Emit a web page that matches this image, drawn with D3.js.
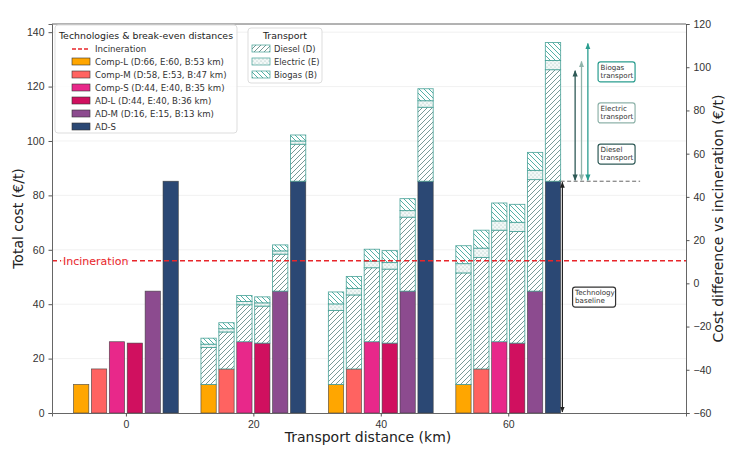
<!DOCTYPE html>
<html>
<head>
<meta charset="utf-8">
<script src="https://cdn.jsdelivr.net/npm/d3@7"></script>
<style>
  body { margin: 0; background: #fff; }
  svg { font-family: "DejaVu Sans", sans-serif; }
  .tick text { fill: #333; font-size: 10.5px; }
  .tick line { stroke: #555; }
  .domain { stroke: #666; }
</style>
</head>
<body>
<svg></svg>
<script>
// data
let distances = [0, 20, 40, 60];
let techNames = ["Comp-L", "Comp-M", "Comp-S", "AD-L", "AD-M", "AD-S"];
let techLabels = ["Comp-L (D:66, E:60, B:53 km)", "Comp-M (D:58, E:53, B:47 km)",
    "Comp-S (D:44, E:40, B:35 km)", "AD-L (D:44, E:40, B:36 km)",
    "AD-M (D:16, E:15, B:13 km)", "AD-S"];
let techColors = ["#ffa600", "#ff6361", "#e8288a", "#d0105f", "#8c4b8f", "#2b4874"];
let baseCost = [10.5, 16.2, 26.2, 25.7, 44.8, 85.2];
// transport cost per distance (€/t), cumulative totals per fuel
let dieselCost = [0, 13.6, 27.2, 41.0];
let electricCost = [0, 14.8, 29.6, 44.4];
let biogasCost = [0, 17.0, 34.0, 51.0];
let incineration = 56;
let leftTicks = [0, 20, 40, 60, 80, 100, 120, 140];
let rightTicks = [-60, -40, -20, 0, 20, 40, 60, 80, 100, 120];

let width = 750;
let height = 470;
let plotLeft = 52, plotRight = 686, plotTop = 24, plotBottom = 413;

let svg = d3.select("svg")
    .attr("width", width)
    .attr("height", height);

let scaleX = d3.scaleLinear().domain([-11.6, 87.9]).range([plotLeft, plotRight]);
let scaleY = d3.scaleLinear().domain([0, 143]).range([plotBottom, plotTop]);
let scaleY2 = d3.scaleLinear().domain([-60, 120]).range([plotBottom, plotTop]);

let pitch = 2.81;       // km between bars in a group
let barW = 2.4;         // km

// hatch patterns
let defs = svg.append("defs");
let pD = defs.append("pattern").attr("id", "hatchD")
    .attr("patternUnits", "userSpaceOnUse").attr("width", 5).attr("height", 5);
pD.append("rect").attr("width", 5).attr("height", 5).attr("fill", "#fff");
pD.append("path").attr("d", "M-1,1 L1,-1 M0,5 L5,0 M4,6 L6,4")
    .attr("stroke", "#557f7b").attr("stroke-width", 0.8);

let pE = defs.append("pattern").attr("id", "hatchE")
    .attr("patternUnits", "userSpaceOnUse").attr("width", 4).attr("height", 4);
pE.append("rect").attr("width", 4).attr("height", 4).attr("fill", "#f3f8f7");
pE.append("circle").attr("cx", 1).attr("cy", 1).attr("r", 0.6).attr("fill", "#9bbdb7");
pE.append("circle").attr("cx", 3).attr("cy", 3).attr("r", 0.6).attr("fill", "#9bbdb7");

let pB = defs.append("pattern").attr("id", "hatchB")
    .attr("patternUnits", "userSpaceOnUse").attr("width", 5).attr("height", 5);
pB.append("rect").attr("width", 5).attr("height", 5).attr("fill", "#fff");
pB.append("path").attr("d", "M-1,4 L1,6 M0,0 L5,5 M4,-1 L6,1")
    .attr("stroke", "#2a9d8f").attr("stroke-width", 0.8);

// grid
svg.append("g")
    .selectAll("line")
    .data(leftTicks.slice(1))
    .enter()
    .append("line")
    .attr("x1", plotLeft).attr("x2", plotRight)
    .attr("y1", d => scaleY(d)).attr("y2", d => scaleY(d))
    .attr("stroke", "#eee").attr("stroke-width", 0.8);

// build bar table
let bars = [];
distances.forEach((dist, j) => {
    techNames.forEach((name, i) => {
        bars.push({
            dist: dist, tech: i,
            x: dist + (i - 2.5) * pitch,
            base: baseCost[i],
            d: baseCost[i] + dieselCost[j],
            e: baseCost[i] + electricCost[j],
            b: baseCost[i] + biogasCost[j]
        });
    });
});

let barG = svg.append("g");
barG.selectAll(".base")
    .data(bars)
    .enter()
    .append("rect")
    .attr("x", d => scaleX(d.x - barW / 2))
    .attr("width", scaleX(barW) - scaleX(0))
    .attr("y", d => scaleY(d.base))
    .attr("height", d => scaleY(0) - scaleY(d.base))
    .attr("fill", d => techColors[d.tech])
    .attr("stroke", "#3a3a3a").attr("stroke-width", 0.7).attr("stroke-opacity", 0.8);

let segs = [["base", "d", "url(#hatchD)"], ["d", "e", "url(#hatchE)"], ["e", "b", "url(#hatchB)"]];
segs.forEach(s => {
    barG.selectAll(".seg-" + s[1])
        .data(bars.filter(d => d.dist > 0))
        .enter()
        .append("rect")
        .attr("x", d => scaleX(d.x - barW / 2))
        .attr("width", scaleX(barW) - scaleX(0))
        .attr("y", d => scaleY(d[s[1]]))
        .attr("height", d => scaleY(d[s[0]]) - scaleY(d[s[1]]))
        .attr("fill", s[2])
        .attr("stroke", "#3f9e93").attr("stroke-width", 0.9).attr("stroke-opacity", 0.85);
});

// incineration line
svg.append("line")
    .attr("x1", plotLeft).attr("x2", plotRight)
    .attr("y1", scaleY(incineration)).attr("y2", scaleY(incineration))
    .attr("stroke", "#e8262b").attr("stroke-width", 1.5).attr("stroke-dasharray", "5,3");
svg.append("rect")
    .attr("x", 61).attr("y", scaleY(incineration) - 7)
    .attr("width", 68).attr("height", 13).attr("fill", "#fff").attr("opacity", 0.85);
svg.append("text")
    .attr("x", 63).attr("y", scaleY(incineration) + 4)
    .attr("font-size", 11).attr("fill", "#e8262b")
    .text("Incineration");

// axes
let axisX = d3.axisBottom(scaleX).tickValues(distances).tickSize(3.5).tickPadding(4);
let axisY = d3.axisLeft(scaleY).tickValues(leftTicks).tickSize(3.5).tickPadding(4);
let axisY2 = d3.axisRight(scaleY2).tickValues(rightTicks).tickSize(3.5).tickPadding(4);

svg.append("g")
    .attr("transform", `translate(0, ${plotBottom})`)
    .call(axisX);
svg.append("g")
    .attr("transform", `translate(${plotLeft}, 0)`)
    .call(axisY);
svg.append("g")
    .attr("transform", `translate(${plotRight}, 0)`)
    .call(axisY2);
svg.append("line")
    .attr("x1", plotLeft).attr("x2", plotRight).attr("y1", plotTop).attr("y2", plotTop)
    .attr("stroke", "#666");
svg.selectAll(".domain").attr("stroke", "#666");

// axis labels
svg.append("text")
    .attr("x", (plotLeft + plotRight) / 2 - 1).attr("y", 442)
    .attr("text-anchor", "middle").attr("font-size", 14).attr("fill", "#222")
    .text("Transport distance (km)");
svg.append("text")
    .attr("transform", `translate(23, ${(plotTop + plotBottom) / 2}) rotate(-90)`)
    .attr("text-anchor", "middle").attr("font-size", 14).attr("fill", "#222")
    .text("Total cost (€/t)");
svg.append("text")
    .attr("transform", `translate(723, ${(plotTop + plotBottom) / 2}) rotate(-90)`)
    .attr("text-anchor", "middle").attr("font-size", 14).attr("fill", "#222")
    .text("Cost difference vs incineration (€/t)");

// annotations for AD-S at 60 km
let last = bars[bars.length - 1];
let markers = svg.append("defs");
function arrowHead(id, color) {
    markers.append("marker").attr("id", id)
        .attr("viewBox", "0 0 10 10").attr("refX", 9).attr("refY", 5)
        .attr("markerWidth", 5).attr("markerHeight", 5)
        .attr("orient", "auto-start-reverse")
        .append("path").attr("d", "M0,1 L10,5 L0,9 Z").attr("fill", color);
}
arrowHead("arBase", "#222");
arrowHead("arD", "#2f5a57");
arrowHead("arE", "#8fb3aa");
arrowHead("arB", "#2a9d8f");

svg.append("line")
    .attr("x1", scaleX(last.x + barW / 2)).attr("x2", scaleX(80.7))
    .attr("y1", scaleY(last.base)).attr("y2", scaleY(last.base))
    .attr("stroke", "#555").attr("stroke-width", 0.9).attr("stroke-dasharray", "4,2.5");

svg.append("line")
    .attr("x1", scaleX(68.5)).attr("x2", scaleX(68.5))
    .attr("y1", scaleY(last.base) + 1).attr("y2", scaleY(0) - 1)
    .attr("stroke", "#222").attr("stroke-width", 1.2)
    .attr("marker-start", "url(#arBase)").attr("marker-end", "url(#arBase)");

let arrows = [
    {x: 70.5, top: last.d, color: "#2f5a57", m: "arD", label: ["Diesel", "transport"], ly: 95.2},
    {x: 71.5, top: last.e, color: "#8fb3aa", m: "arE", label: ["Electric", "transport"], ly: 110.3},
    {x: 72.5, top: last.b, color: "#2a9d8f", m: "arB", label: ["Biogas", "transport"], ly: 125.4}
];
svg.append("g")
    .selectAll("line")
    .data(arrows)
    .enter()
    .append("line")
    .attr("x1", d => scaleX(d.x)).attr("x2", d => scaleX(d.x))
    .attr("y1", d => scaleY(last.base) - 1).attr("y2", d => scaleY(d.top) + 1)
    .attr("stroke", d => d.color).attr("stroke-width", 1.3)
    .attr("marker-start", d => `url(#${d.m})`).attr("marker-end", d => `url(#${d.m})`);

function noteBox(x, y, lines, color, w) {
    let g = svg.append("g").attr("transform", `translate(${x}, ${y})`);
    g.append("rect")
        .attr("x", 0).attr("y", -10).attr("width", w).attr("height", 20)
        .attr("rx", 2.5).attr("fill", "#fff").attr("stroke", color).attr("stroke-width", 1.2);
    g.selectAll("text")
        .data(lines)
        .enter()
        .append("text")
        .attr("x", 2.5).attr("y", (d, i) => -2 + i * 8)
        .attr("font-size", 7.1).attr("fill", "#333")
        .text(d => d);
}
arrows.forEach(a => noteBox(scaleX(74.1), scaleY(a.ly), a.label, a.color, 37));
noteBox(scaleX(70.1), scaleY(42.6), ["Technology", "baseline"], "#333", 43);

// legend: technologies
let leg1 = svg.append("g").attr("transform", "translate(55, 25)");
leg1.append("rect")
    .attr("width", 182).attr("height", 108).attr("rx", 3)
    .attr("fill", "#fff").attr("fill-opacity", 0.85).attr("stroke", "#ddd");
leg1.append("text")
    .attr("x", 91).attr("y", 14).attr("text-anchor", "middle")
    .attr("font-size", 9.4).attr("fill", "#222")
    .text("Technologies & break-even distances");
leg1.append("line")
    .attr("x1", 17).attr("x2", 35).attr("y1", 24).attr("y2", 24)
    .attr("stroke", "#e8262b").attr("stroke-width", 1.3).attr("stroke-dasharray", "4,2");
leg1.append("text")
    .attr("x", 40).attr("y", 27).attr("font-size", 8.6).attr("fill", "#333")
    .text("Incineration");
leg1.selectAll(".lp")
    .data(techLabels)
    .enter()
    .append("rect")
    .attr("x", 17).attr("y", (d, i) => 33 + i * 13)
    .attr("width", 18).attr("height", 7)
    .attr("fill", (d, i) => techColors[i]).attr("stroke", "#333").attr("stroke-width", 0.6);
leg1.selectAll(".lt")
    .data(techLabels)
    .enter()
    .append("text")
    .attr("x", 40).attr("y", (d, i) => 40 + i * 13)
    .attr("font-size", 8.6).attr("fill", "#333")
    .text(d => d);

// legend: transport
let transLabels = ["Diesel (D)", "Electric (E)", "Biogas (B)"];
let transFills = ["url(#hatchD)", "url(#hatchE)", "url(#hatchB)"];
let leg2 = svg.append("g").attr("transform", "translate(248, 28)");
leg2.append("rect")
    .attr("width", 74).attr("height", 55).attr("rx", 3)
    .attr("fill", "#fff").attr("fill-opacity", 0.85).attr("stroke", "#ddd");
leg2.append("text")
    .attr("x", 37).attr("y", 11).attr("text-anchor", "middle")
    .attr("font-size", 9.4).attr("fill", "#222")
    .text("Transport");
leg2.selectAll(".tp")
    .data(transLabels)
    .enter()
    .append("rect")
    .attr("x", 4).attr("y", (d, i) => 17 + i * 13)
    .attr("width", 18).attr("height", 7)
    .attr("fill", (d, i) => transFills[i]).attr("stroke", "#3f9e93").attr("stroke-width", 0.7);
leg2.selectAll(".tt")
    .data(transLabels)
    .enter()
    .append("text")
    .attr("x", 26).attr("y", (d, i) => 24 + i * 13)
    .attr("font-size", 8.4).attr("fill", "#333")
    .text(d => d);
</script>
</body>
</html>
